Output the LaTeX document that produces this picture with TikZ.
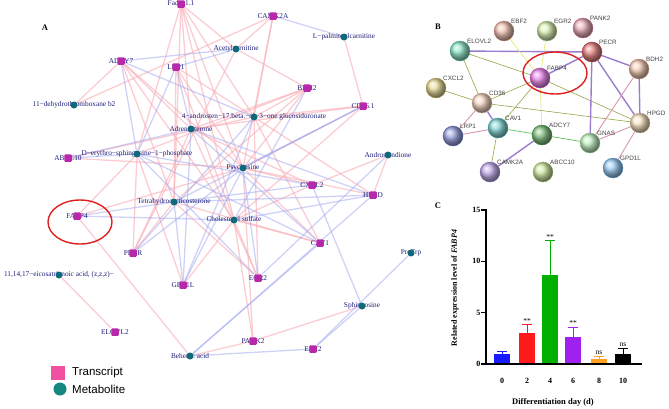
\documentclass[tikz,border=0pt]{standalone}
\usepackage{fontspec}
\setmainfont{Liberation Serif}
\newfontfamily\arialfont{Liberation Sans}
\usetikzlibrary{backgrounds}

\definecolor{trMag}{RGB}{184,40,170}
\definecolor{meTeal}{RGB}{14,106,122}
\definecolor{lgPink}{RGB}{240,80,160}
\definecolor{lgTeal}{RGB}{20,136,126}
\definecolor{edgePink}{RGB}{248,172,180}
\definecolor{edgeBlue}{RGB}{160,166,240}
\definecolor{navyText}{RGB}{28,28,122}
\definecolor{ringRed}{RGB}{222,30,30}
% STRING ball colours
\definecolor{ebfC}{RGB}{236,160,140}
\definecolor{egrC}{RGB}{200,236,140}
\definecolor{pankC}{RGB}{228,130,150}
\definecolor{elovlC}{RGB}{80,214,170}
\definecolor{pecrC}{RGB}{216,60,60}
\definecolor{bdhC}{RGB}{240,176,140}
\definecolor{fabpC}{RGB}{226,70,226}
\definecolor{cxclC}{RGB}{216,200,96}
\definecolor{cdC}{RGB}{240,192,160}
\definecolor{hpgdC}{RGB}{246,214,160}
\definecolor{lrpC}{RGB}{96,112,208}
\definecolor{cavC}{RGB}{64,192,192}
\definecolor{adcyC}{RGB}{60,160,60}
\definecolor{gnasC}{RGB}{160,236,160}
\definecolor{camkC}{RGB}{160,128,224}
\definecolor{abccC}{RGB}{184,224,112}
\definecolor{gpdC}{RGB}{96,176,240}
% STRING edge colours
\definecolor{olvC}{RGB}{150,164,70}
\definecolor{ylwC}{RGB}{228,228,110}
\definecolor{prpC}{RGB}{156,124,208}
\definecolor{pnkC}{RGB}{214,150,176}
\definecolor{grnC}{RGB}{90,190,90}
% bar colours
\definecolor{barBlue}{RGB}{26,26,255}
\definecolor{barRed}{RGB}{255,26,26}
\definecolor{barGreen}{RGB}{0,176,0}
\definecolor{barPurple}{RGB}{160,32,240}
\definecolor{barOrange}{RGB}{255,160,32}

\tikzset{
  transcript/.style={shape=rectangle, fill=trMag, minimum size=7.5pt, inner sep=0pt, rounded corners=1pt},
  metabolite/.style={shape=circle, fill=meTeal, minimum size=7pt, inner sep=0pt},
  alabel/.style={text=navyText, font=\fontsize{7.3}{8}\selectfont, inner sep=0pt},
  pinkedge/.style={draw=edgePink, line width=1.3pt, opacity=0.6},
  blueedge/.style={draw=edgeBlue, line width=1.3pt, opacity=0.5},
  panel/.style={font=\bfseries\fontsize{8.5}{9}\selectfont, inner sep=0pt},
  stringball/.style={shape=circle, shading=ball, minimum size=20pt, inner sep=0pt, line width=0.4pt},
  stringlbl/.style={font=\arialfont\fontsize{6.3}{7}\selectfont, text=black!75, inner sep=0.5pt, label distance=-1pt},
  sOlive/.style={draw=olvC, line width=0.6pt},
  sYellow/.style={draw=ylwC, line width=0.6pt},
  sPurple/.style={draw=prpC, line width=1.4pt},
  sPink/.style={draw=pnkC, line width=0.9pt},
  sGreen/.style={draw=grnC, line width=0.7pt},
  cAxis/.style={line width=1.3pt, line cap=rect},
  ctick/.style={font=\bfseries\fontsize{8}{9}\selectfont, inner sep=1pt},
  csig/.style={font=\fontsize{7.5}{8}\selectfont, inner sep=0pt}
}

\begin{document}
\begin{tikzpicture}[x=1pt, y=-1pt]
    \useasboundingbox (0,0) rectangle (669,408);

    % ---------- Panel A ----------
    \node[panel] (labA) at (45,28) {A};

    % Transcripts
    \foreach \n/\x/\y/\t in {fads/181/4/Fadsp1.1, camk/273/16/CAMK2A, adcy/121/61/ADCY7,
        lrp/176/67/LRP1, bdh/307/88/BDH2, cd/363/106/CD36.1, abcc/68/158/ABCC10,
        cxcl/312/185/CXCL2, hpgd/373/195/HPGD, fabp/77/216/FABP4, cav/320/243/CAV1,
        pecr/133/253/PECR, gpd/183/285/GPD1L, egr/258/278/EGR2, elovl/115/332/ELOVL2,
        pank/253/341/PANK2, ebf/313/349/EBF2} {
        \node[alabel] (t\n) at (\x,\y) {\t};
        \node[transcript] (\n) at (\x,\y) {};
    }

    % Metabolites
    \foreach \n/\x/\y/\t in {acet/236/49/Acetylcarnitine, lpal/344/37/L−palmitoylcarnitine,
        dtx/74/105/11−dehydrothromboxane b2,
        andg/254/117/4−androsten−17.beta.−ol−3−one glucosiduronate,
        adren/191/129/Adrenosterone, dsp/137/154/D−erythro−sphingosine−1−phosphate,
        psy/243/168/Psychosine, andr/388/155/Androstendione,
        thc/174/202/Tetrahydrocorticosterone, chol/234/220/Cholesteryl sulfate,
        prot/411/253/ProTrp, sph/362/306/Sphingosine, beh/190/356/Behenic acid} {
        \node[alabel] (t\n) at (\x,\y) {\t};
        \node[metabolite] (\n) at (\x,\y) {};
    }
    \node[alabel] (teico) at (59,275) {11,14,17−eicosatrienoic acid, (z,z,z)−};
    \node[metabolite] (eico) at (59,275) {};

    % Draw edges
    \begin{scope}[on background layer]
    \foreach \a/\b in {fads/acet, fads/andg, fads/adren, fads/psy, fads/chol, fads/thc, fads/dsp,
        camk/acet, camk/andg, camk/psy, camk/dtx,
        adcy/dtx, adcy/adren, adcy/thc, adcy/chol, adcy/psy,
        lrp/andg, lrp/thc, lrp/chol, lrp/psy,
        bdh/acet, bdh/andg, bdh/adren, bdh/dsp, bdh/thc, bdh/psy,
        cd/lpal, cd/andg, cd/adren, cd/psy, cd/chol,
        abcc/andg, abcc/psy,
        cxcl/psy, cxcl/chol, cxcl/andr, cxcl/adren,
        hpgd/andr, hpgd/psy, hpgd/andg,
        fabp/beh, fabp/dsp, fabp/psy,
        cav/chol, cav/psy, cav/thc, cav/andg,
        pecr/dsp, pecr/adren, pecr/thc, pecr/acet,
        gpd/chol, gpd/dsp,
        egr/chol, egr/adren, egr/thc, egr/andg,
        elovl/eico, pank/sph, pank/beh, pank/chol, pank/psy} {
        \draw[pinkedge] (\a) -- (\b);
    }
    \foreach \a/\b in {camk/lpal, adcy/acet, lrp/acet, adcy/andg, adcy/dsp, lrp/adren, lrp/dsp,
        abcc/dsp, abcc/adren, fabp/thc, fabp/chol, cxcl/dsp, cxcl/thc,
        hpgd/thc, hpgd/chol, hpgd/adren, cav/adren, cav/beh, cav/dsp,
        gpd/thc, gpd/psy, gpd/adren, egr/psy, egr/dsp, egr/andr,
        ebf/sph, ebf/beh, ebf/prot, cxcl/sph, hpgd/beh,
        bdh/chol, cd/thc, cd/psy, pecr/psy, pecr/andg, gpd/andg} {
        \draw[blueedge] (\a) -- (\b);
    }
    \end{scope}

    % FABP4 ring
    \draw[ringRed, line width=1.4pt] (80,222) ellipse [x radius=32, y radius=22];

    % Legend
    \node[shape=rectangle, fill=lgPink, minimum size=14pt, inner sep=0pt] (lgT) at (58,373) {};
    \node[shape=circle, fill=lgTeal, minimum size=13pt, inner sep=0pt] (lgM) at (60,389) {};
    \node[font=\arialfont\fontsize{11.5}{12}\selectfont, anchor=west, inner sep=0pt] (lgTtxt) at (72,373) {Transcript};
    \node[font=\arialfont\fontsize{11.5}{12}\selectfont, anchor=west, inner sep=0pt] (lgMtxt) at (72,389) {Metabolite};

    % ---------- Panel B ----------
    \node[panel] (labB) at (438,27) {B};
    \foreach \n/\x/\y/\c/\t in {sebf/504/31/ebfC/EBF2, segr/547/31/egrC/EGR2, spank/583/28/pankC/PANK2,
        selovl/460/51/elovlC/ELOVL2, specr/592/52/pecrC/PECR, sbdh/639/69/bdhC/BDH2,
        sfabp/540/78/fabpC/FABP4, scxcl/436/88/cxclC/CXCL2, scd/482/103/cdC/CD36,
        shpgd/640/123/hpgdC/HPGD, slrp/453/136/lrpC/LRP1, scav/498/128/cavC/CAV1,
        sadcy/542/135/adcyC/ADCY7, sgnas/590/143/gnasC/GNAS, scamk/490/172/camkC/CAMK2A,
        sabcc/543/172/abccC/ABCC10, sgpd/613/168/gpdC/GPD1L} {
        \node[stringball, ball color=\c!60!white, draw=\c!80!black, label={[stringlbl]north east:\t}] (\n) at (\x,\y) {};
    }
    \begin{scope}[on background layer]
    \foreach \a/\b/\s in {selovl/specr/sPurple, selovl/sfabp/sOlive, selovl/scd/sOlive,
        sebf/sfabp/sYellow, segr/sfabp/sYellow, sfabp/specr/sPurple, sfabp/scd/sOlive,
        sfabp/scav/sOlive, sfabp/sadcy/sYellow, sfabp/shpgd/sOlive, scxcl/scd/sOlive,
        scd/scav/sPurple, scd/shpgd/sOlive, scd/slrp/sPink, slrp/scav/sPink,
        scav/sadcy/sGreen, scav/scamk/sOlive, scamk/sadcy/sPurple, sadcy/sgnas/sGreen,
        specr/sbdh/sPurple, specr/shpgd/sPurple, specr/sgnas/sPurple, sbdh/shpgd/sPurple,
        sbdh/sgnas/sPink, shpgd/sgnas/sPink, shpgd/sgpd/sPink} {
        \draw[\s] (\a) -- (\b);
    }
    \end{scope}
    \draw[ringRed, line width=1.4pt] (555,73) ellipse [x radius=32, y radius=21];

    % ---------- Panel C ----------
    \node[panel] (labC) at (438,206) {C};
    \foreach \d/\x/\v/\e/\c in {0/502/1.0/1.25/barBlue, 2/527/3.0/3.8/barRed, 4/550/8.7/12.0/barGreen,
        6/573/2.6/3.6/barPurple, 8/599/0.5/0.75/barOrange, 10/623/1.0/1.5/black} {
        \fill[\c] (\x-8,364) rectangle (\x+8,{364-10.27*\v});
        \draw[\c, line width=1pt] (\x,{364-10.27*\v}) -- (\x,{364-10.27*\e})
            (\x-5,{364-10.27*\e}) -- (\x+5,{364-10.27*\e});
        \node[ctick] (xtick\d) at (\x,381) {\d};
    }
    \foreach \d/\x/\e/\s in {2/527/3.8/**, 4/550/12.0/**, 6/573/3.6/**, 8/599/0.75/ns, 10/623/1.5/ns} {
        \node[csig] (sig\d) at (\x,{364-10.27*\e-4}) {\s};
    }
    % axes
    \draw[cAxis] (486,210) -- (486,364) -- (641,364);
    \foreach \v in {0,5,10,15} {
        \draw[cAxis] (486,{364-10.27*\v}) -- (482,{364-10.27*\v}) node[ctick, anchor=east] (ytick\v) {\v};
    }
    \node[ctick, rotate=90] (ylab) at (455,288) {Related expression level of \textit{FABP4}};
    \node[ctick, font=\bfseries\fontsize{8.5}{9}\selectfont] (xlab) at (553,402) {Differentiation day (d)};
\end{tikzpicture}
\end{document}
